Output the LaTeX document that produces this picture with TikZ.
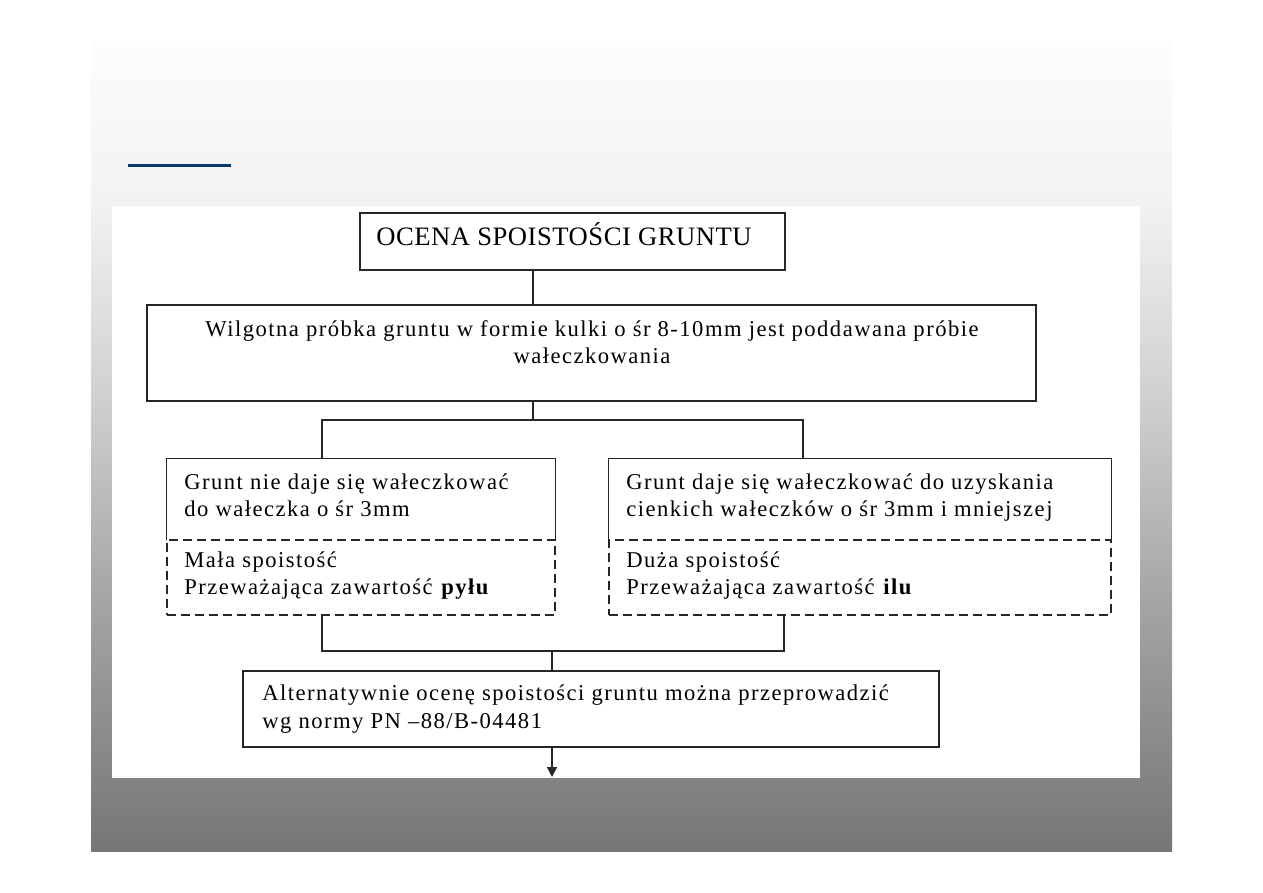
\documentclass[tikz,border=0pt]{standalone}
\usepackage{fontspec}
\setmainfont{Liberation Serif}[LetterSpace=6.5]
\usetikzlibrary{arrows.meta, positioning, calc}

\definecolor{slidetop}{HTML}{FDFDFD}
\definecolor{slidehigh}{HTML}{F2F2F2}
\definecolor{slidemid}{HTML}{D0D0D0}
\definecolor{slidelow}{HTML}{A5A5A5}
\definecolor{slidebot}{HTML}{767676}
\definecolor{slideblue}{HTML}{0B3A6E}
\pgfdeclareverticalshading{slidefade}{100bp}{color(0bp)=(slidebot); color(25bp)=(slidebot); color(40.5bp)=(slidelow); color(53bp)=(slidemid); color(65bp)=(slidehigh); color(75bp)=(slidetop); color(100bp)=(slidetop)}

\begin{document}
\begin{tikzpicture}[
        x=0.5pt, y=-0.5pt,
        box/.style={rectangle, draw=black!85, line width=0.8pt, inner sep=0pt},
        openbox/.style={rectangle, inner sep=0pt},
        dashbox/.style={rectangle, draw=black!85, line width=0.8pt, inner sep=0pt, dash pattern=on 4.5pt off 2.5pt},
        txt/.style={inner sep=0pt, anchor=base west, font=\fontsize{11.3}{13}\selectfont},
        link/.style={draw=black!85, line width=0.8pt},
        arrow/.style={link, -{Triangle[width=5pt, length=5pt]}}
    ]
    \useasboundingbox (0,0) rectangle (1263,893);
    % slide background
    \shade[shading=slidefade] (91,41) rectangle (1172,851);
    \fill[white] (112,206) rectangle (1140,778);
    \draw[slideblue, line width=1.5pt] (128,166) -- (231,166);

    % boxes
    \node[box, minimum width=212.5pt, minimum height=28.5pt] (ocena) at (572.5,241.5) {};
    \node[box, minimum width=444.5pt, minimum height=48pt] (probka) at (591.5,353) {};
    \node[openbox, minimum width=194pt, minimum height=40.5pt] (nie) at (361,499.5) {};
    \node[dashbox, minimum width=194pt, minimum height=37.5pt] (mala) at (361,577.5) {};
    \node[openbox, minimum width=251pt, minimum height=40.5pt] (daje) at (860,499.5) {};
    \node[dashbox, minimum width=251pt, minimum height=37.5pt] (duza) at (860,577.5) {};
    \node[box, minimum width=348pt, minimum height=38pt] (alt) at (591,709) {};
    \draw[link] (nie.south west) -- (nie.north west) -- (nie.north east) -- (nie.south east);
    \draw[link] (daje.south west) -- (daje.north west) -- (daje.north east) -- (daje.south east);

    % texts
    \node[txt, font=\fontsize{13.3}{15}\selectfont\addfontfeatures{LetterSpace=2}] (ocenatxt) at (376,246) {OCENA SPOISTOŚCI GRUNTU};
    \node[txt, anchor=base] (probka1) at (592,336) {Wilgotna próbka gruntu w formie kulki o śr 8-10mm jest poddawana próbie};
    \node[txt, anchor=base] (probka2) at (592,363) {wałeczkowania};
    \node[txt] (nie1) at (184,489) {Grunt nie daje się wałeczkować};
    \node[txt] (nie2) at (184,516) {do wałeczka o śr 3mm};
    \node[txt] (mala1) at (184,567) {Mała spoistość};
    \node[txt] (mala2) at (184,594) {Przeważająca zawartość \textbf{pyłu}};
    \node[txt] (daje1) at (626,489) {Grunt daje się wałeczkować do uzyskania};
    \node[txt] (daje2) at (626,516) {cienkich wałeczków o śr 3mm i mniejszej};
    \node[txt] (duza1) at (626,567) {Duża spoistość};
    \node[txt] (duza2) at (626,594) {Przeważająca zawartość \textbf{ilu}};
    \node[txt] (alt1) at (262,700) {Alternatywnie ocenę spoistości gruntu można przeprowadzić};
    \node[txt] (alt2) at (262,728) {wg normy PN –88/B-04481};

    % connectors
    \coordinate (split) at (533,420);
    \coordinate (lsplit) at (322,420);
    \coordinate (rsplit) at (803,420);
    \coordinate (lmerge) at (322,651);
    \coordinate (rmerge) at (784,651);
    \coordinate (merge) at (552,651);
    \coordinate (tip) at (552,777);
    \draw[link] (ocena.south -| split) -- (probka.north -| split);
    \draw[link] (probka.south -| split) -- (split);
    \draw[link] (nie.north -| lsplit) -- (lsplit) -- (rsplit) -- (daje.north -| rsplit);
    \draw[link] (mala.south -| lmerge) -- (lmerge) -- (rmerge) -- (duza.south -| rmerge);
    \draw[link] (merge) -- (alt.north -| merge);
    \draw[arrow] (alt.south -| tip) -- (tip);
\end{tikzpicture}
\end{document}
